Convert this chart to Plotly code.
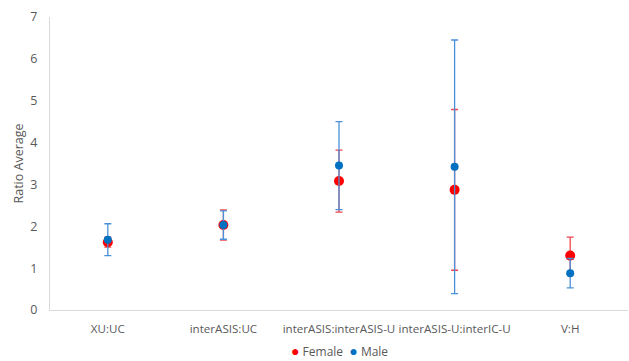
import plotly.graph_objects as go

categories = ["XU:UC", "interASIS:UC", "interASIS:interASIS-U", "interASIS-U:interIC-U", "V:H"]
female_avg = [1.62, 2.03, 3.08, 2.87, 1.30]
female_err = [0.12, 0.36, 0.74, 1.92, 0.44]
male_avg = [1.68, 2.03, 3.45, 3.42, 0.88]
male_err = [0.38, 0.34, 1.05, 3.03, 0.35]
y_ticks = [0, 1, 2, 3, 4, 5, 6, 7]

FONT = "Open Sans"
GRAY = "#595959"
RED = "#FF0000"
BLUE = "#0070C0"

fig = go.Figure()
fig.add_trace(go.Scatter(
    x=categories, y=female_avg, mode="markers", name="Female", showlegend=False,
    marker=dict(color=RED, size=10),
    error_y=dict(type="data", array=female_err, visible=True,
                 color="#F0474F", thickness=1.3, width=3.5),
))
fig.add_trace(go.Scatter(
    x=categories, y=male_avg, mode="markers", name="Male", showlegend=False,
    marker=dict(color=BLUE, size=8),
    error_y=dict(type="data", array=male_err, visible=True,
                 color="#4A90D9", thickness=1.3, width=3.5),
))

legend_text = (f"<span style='color:{RED};font-size:14px'>●</span> Female  "
               f"<span style='color:{BLUE};font-size:14px'>●</span> Male")
fig.add_annotation(text=legend_text, xref="paper", yref="paper",
                   x=0.5, y=-0.138, xanchor="center", yanchor="middle",
                   showarrow=False, font=dict(size=12, color=GRAY, family=FONT))

fig.update_layout(
    width=629, height=361,
    margin=dict(l=50, r=1, t=17, b=51, autoexpand=False),
    paper_bgcolor="white", plot_bgcolor="white",
    font=dict(family=FONT, size=12, color=GRAY),
    showlegend=False,
    xaxis=dict(showgrid=False, showline=True, linecolor="#D9D9D9", linewidth=1.2,
               ticks="", tickfont=dict(size=11.6, color=GRAY), range=[-0.5, 4.5],
               ticklabelstandoff=8, automargin=False),
    yaxis=dict(range=[0, 7], tickvals=y_ticks, showgrid=False, zeroline=False,
               showline=True, linecolor="#D9D9D9", linewidth=1.2, ticks="",
               tickfont=dict(size=12.5, color=GRAY), automargin=False,
               title=dict(text="Ratio Average", font=dict(size=12.5, color=GRAY), standoff=3),
               ticklabelstandoff=9),
)

fig.write_html("out.html")
